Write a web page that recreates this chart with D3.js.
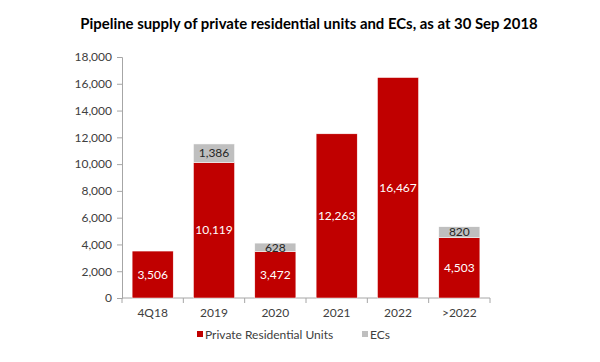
<!DOCTYPE html>
<html>
<head>
<meta charset="utf-8">
<script src="https://cdn.jsdelivr.net/npm/d3@7"></script>
<style>
  body { margin: 0; background: #fff; }
  text { font-family: "Lato", "Open Sans", sans-serif; }
</style>
</head>
<body>
<div id="chart"></div>
<script>
// data
var categories = ["4Q18", "2019", "2020", "2021", "2022", ">2022"];
var privateUnits = [3506, 10119, 3472, 12263, 16467, 4503];
var ecUnits = [0, 1386, 628, 0, 0, 820];
var yTicks = [0, 2000, 4000, 6000, 8000, 10000, 12000, 14000, 16000, 18000];

var W = 600, H = 362;
var margin = {top: 57, right: 110, bottom: 64, left: 122};
var innerWidth = W - margin.left - margin.right;
var innerHeight = H - margin.top - margin.bottom;

var svg = d3.select("#chart").append("svg")
    .attr("width", W)
    .attr("height", H);

svg.append("text")
    .attr("x", 309)
    .attr("y", 29)
    .attr("text-anchor", "middle")
    .attr("font-size", "14.9px")
    .attr("font-weight", "bold")
    .attr("fill", "#000")
    .text("Pipeline supply of private residential units and ECs, as at 30 Sep 2018");

var g = svg.append("g")
    .attr("transform", "translate(" + margin.left + "," + margin.top + ")");

var x = d3.scaleBand()
    .domain(categories)
    .range([0, innerWidth])
    .paddingInner(0.33)
    .paddingOuter(0.165);

var y = d3.scaleLinear()
    .domain([0, 18000])
    .range([innerHeight, 0]);

var fmt = d3.format(",");

// y axis
var yAxis = d3.axisLeft(y).tickValues(yTicks).tickFormat(fmt).tickSize(5).tickPadding(5);
var yG = g.append("g").call(yAxis);
yG.select(".domain").attr("stroke", "#a6a6a6");
yG.selectAll(".tick line").attr("stroke", "#a6a6a6");
yG.selectAll(".tick text").attr("font-size", "12px").attr("fill", "#404040");

// x axis: ticks between categories
var xG = g.append("g").attr("transform", "translate(0," + innerHeight + ")");
xG.append("line")
    .attr("x1", 0).attr("x2", innerWidth)
    .attr("y1", 0).attr("y2", 0)
    .attr("stroke", "#a6a6a6");
d3.range(categories.length + 1).forEach(function(i) {
  xG.append("line")
    .attr("x1", i * innerWidth / categories.length)
    .attr("x2", i * innerWidth / categories.length)
    .attr("y1", 0).attr("y2", 5)
    .attr("stroke", "#a6a6a6");
});
xG.selectAll(".xlab").data(categories).enter().append("text")
    .attr("class", "xlab")
    .attr("x", function(d) { return x(d) + x.bandwidth() / 2; })
    .attr("y", 19)
    .attr("text-anchor", "middle")
    .attr("font-size", "12px")
    .attr("fill", "#404040")
    .text(function(d) { return d; });

var red = "#c00000", grey = "#bfbfbf";

// private bars
g.selectAll(".priv").data(categories).enter().append("rect")
    .attr("class", "priv")
    .attr("x", function(d) { return x(d); })
    .attr("width", x.bandwidth())
    .attr("y", function(d, i) { return y(privateUnits[i]); })
    .attr("height", function(d, i) { return innerHeight - y(privateUnits[i]); })
    .attr("fill", red)
    .attr("stroke", "#fff")
    .attr("stroke-width", 0.5);

// EC bars on top
g.selectAll(".ec").data(categories).enter().filter(function(d, i) { return ecUnits[i] > 0; })
    .append("rect")
    .attr("class", "ec")
    .attr("x", function(d) { return x(d); })
    .attr("width", x.bandwidth())
    .attr("y", function(d) { var i = categories.indexOf(d); return y(privateUnits[i] + ecUnits[i]); })
    .attr("height", function(d) { var i = categories.indexOf(d); return y(privateUnits[i]) - y(privateUnits[i] + ecUnits[i]); })
    .attr("fill", grey)
    .attr("stroke", "#fff")
    .attr("stroke-width", 0.5);

// labels
g.selectAll(".plab").data(categories).enter().append("text")
    .attr("x", function(d) { return x(d) + x.bandwidth() / 2; })
    .attr("y", function(d, i) { return (y(privateUnits[i]) + innerHeight) / 2; })
    .attr("dy", "0.35em")
    .attr("text-anchor", "middle")
    .attr("font-size", "12px")
    .attr("fill", "#fff")
    .text(function(d, i) { return fmt(privateUnits[i]); });

g.selectAll(".elab").data(categories).enter().filter(function(d, i) { return ecUnits[i] > 0; })
    .append("text")
    .attr("x", function(d) { return x(d) + x.bandwidth() / 2; })
    .attr("y", function(d) { var i = categories.indexOf(d); return (y(privateUnits[i]) + y(privateUnits[i] + ecUnits[i])) / 2; })
    .attr("dy", "0.35em")
    .attr("text-anchor", "middle")
    .attr("font-size", "12px")
    .attr("fill", "#262626")
    .text(function(d) { return fmt(ecUnits[categories.indexOf(d)]); });

// legend
var legend = [{name: "Private Residential Units", color: red, x: 197}, {name: "ECs", color: grey, x: 362}];
var lg = svg.selectAll(".leg").data(legend).enter().append("g")
    .attr("transform", function(d) { return "translate(" + d.x + ",335)"; });
lg.append("rect").attr("x", 0).attr("y", -4).attr("width", 6).attr("height", 6).attr("fill", function(d) { return d.color; });
lg.append("text").attr("x", 8).attr("y", 0).attr("dy", "0.35em")
    .attr("font-size", "12px").attr("fill", "#404040")
    .text(function(d) { return d.name; });
</script>
</body>
</html>
